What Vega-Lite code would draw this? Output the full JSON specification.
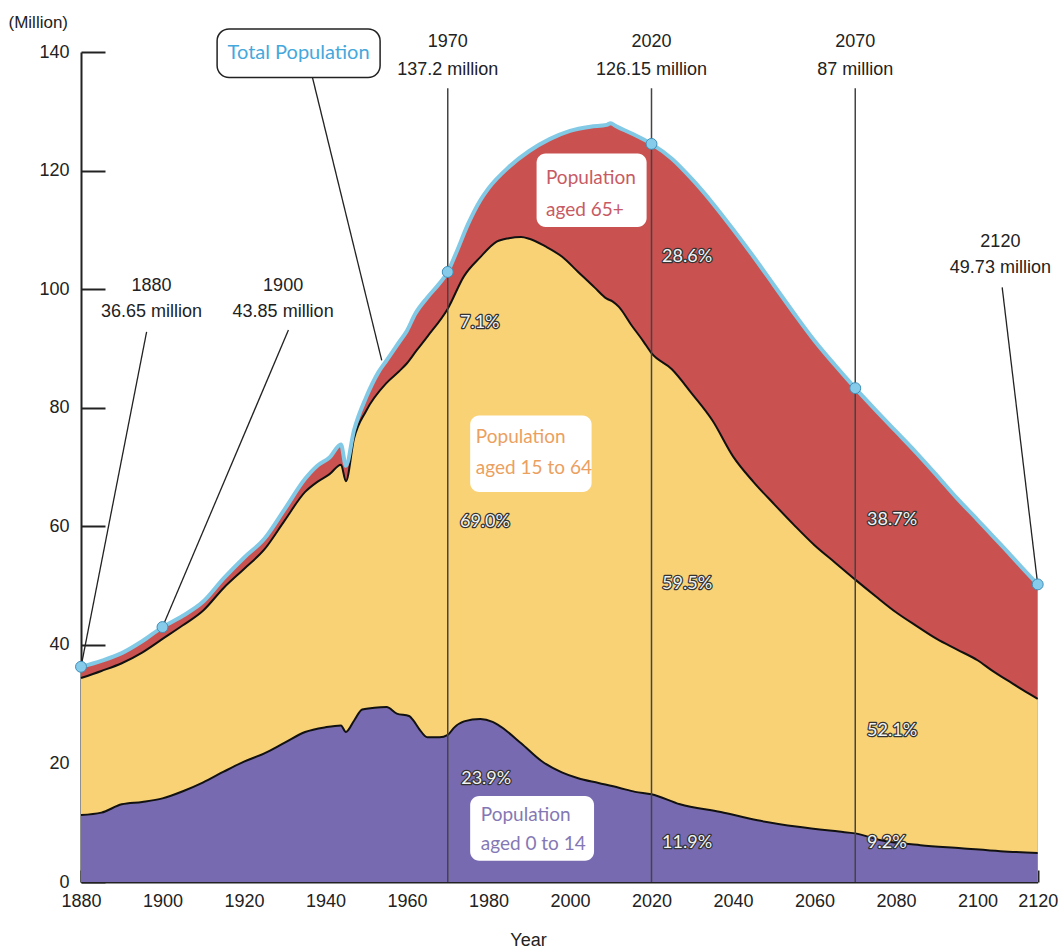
{
  "$schema": "https://vega.github.io/schema/vega-lite/v6.json",
  "width": 957,
  "height": 830,
  "autosize": {"type": "none"},
  "padding": {"left": 81, "top": 52, "right": 21, "bottom": 67},
  "background": "white",
  "config": {"view": {"stroke": null}},
  "datasets": {
    "total": [
      {"year":1880,"value":36.3},{"year":1885,"value":37.3},{"year":1890,"value":38.6},{"year":1895,"value":40.6},{"year":1900,"value":43.0},{"year":1905,"value":44.9},{"year":1910,"value":47.3},{"year":1915,"value":51.2},{"year":1920,"value":54.7},{"year":1925,"value":57.9},{"year":1930,"value":62.9},{"year":1935,"value":68.0},{"year":1938,"value":70.2},{"year":1941,"value":71.6},{"year":1943.8,"value":73.8},{"year":1945,"value":70.2},{"year":1947,"value":76.2},{"year":1950,"value":81.8},{"year":1953,"value":86.0},{"year":1955,"value":88.0},{"year":1958,"value":91.0},{"year":1960,"value":93.0},{"year":1962,"value":95.8},{"year":1965,"value":98.6},{"year":1968,"value":101.0},{"year":1970,"value":102.9},{"year":1972,"value":106.0},{"year":1975,"value":111.0},{"year":1978,"value":115.0},{"year":1980,"value":117.0},{"year":1985,"value":120.6},{"year":1990,"value":123.3},{"year":1995,"value":125.3},{"year":2000,"value":126.7},{"year":2005,"value":127.4},{"year":2009,"value":127.7},{"year":2010,"value":128.0},{"year":2011,"value":127.6},{"year":2015,"value":126.3},{"year":2020,"value":124.5},{"year":2025,"value":122.0},{"year":2030,"value":118.5},{"year":2035,"value":114.5},{"year":2040,"value":110.1},{"year":2045,"value":105.5},{"year":2050,"value":100.7},{"year":2055,"value":95.9},{"year":2060,"value":91.3},{"year":2065,"value":87.2},{"year":2070,"value":83.3},{"year":2075,"value":79.6},{"year":2080,"value":76.0},{"year":2085,"value":72.4},{"year":2090,"value":68.6},{"year":2095,"value":64.7},{"year":2100,"value":61.1},{"year":2105,"value":58.4},{"year":2110,"value":55.7},{"year":2115,"value":52.9},{"year":2120,"value":50.2}
    ],
    "under65": [
      {"year":1880,"value":34.4},{"year":1885,"value":35.6},{"year":1890,"value":36.9},{"year":1895,"value":38.7},{"year":1900,"value":41.0},{"year":1905,"value":43.3},{"year":1910,"value":45.8},{"year":1915,"value":49.6},{"year":1920,"value":52.8},{"year":1925,"value":56.1},{"year":1930,"value":61.0},{"year":1935,"value":65.8},{"year":1938,"value":67.5},{"year":1941,"value":68.8},{"year":1943.8,"value":70.4},{"year":1945,"value":67.6},{"year":1947,"value":74.8},{"year":1950,"value":79.5},{"year":1955,"value":84.2},{"year":1958,"value":86.1},{"year":1960,"value":87.5},{"year":1962.4,"value":89.7},{"year":1965,"value":92.0},{"year":1970,"value":96.7},{"year":1974,"value":102.2},{"year":1978,"value":105.4},{"year":1982,"value":108.0},{"year":1985,"value":108.6},{"year":1988,"value":108.8},{"year":1990,"value":108.5},{"year":1994,"value":107.2},{"year":1998,"value":105.5},{"year":2002,"value":102.9},{"year":2006,"value":100.3},{"year":2009,"value":98.4},{"year":2010.5,"value":97.9},{"year":2012,"value":97.0},{"year":2015,"value":94.0},{"year":2018,"value":91.2},{"year":2020,"value":89.2},{"year":2025,"value":86.5},{"year":2030,"value":82.3},{"year":2035,"value":77.8},{"year":2040,"value":71.8},{"year":2045,"value":67.5},{"year":2050,"value":63.8},{"year":2055,"value":60.2},{"year":2060,"value":56.8},{"year":2065,"value":53.9},{"year":2070,"value":51.0},{"year":2075,"value":48.2},{"year":2080,"value":45.5},{"year":2085,"value":43.2},{"year":2090,"value":41.0},{"year":2095,"value":39.2},{"year":2100,"value":37.4},{"year":2105,"value":35.6},{"year":2110,"value":34.0},{"year":2115,"value":32.4},{"year":2120,"value":30.9}
    ],
    "under15": [
      {"year":1880,"value":11.3},{"year":1885,"value":11.7},{"year":1890,"value":13.1},{"year":1895,"value":13.5},{"year":1900,"value":14.1},{"year":1905,"value":15.3},{"year":1910,"value":16.8},{"year":1915,"value":18.6},{"year":1920,"value":20.3},{"year":1925,"value":21.7},{"year":1930,"value":23.5},{"year":1935,"value":25.3},{"year":1940,"value":26.1},{"year":1943.8,"value":26.4},{"year":1945,"value":25.3},{"year":1947,"value":27.2},{"year":1949,"value":29.1},{"year":1952,"value":29.4},{"year":1955,"value":29.5},{"year":1957.5,"value":28.4},{"year":1960.5,"value":28.0},{"year":1961.5,"value":27.3},{"year":1963,"value":25.8},{"year":1965,"value":24.4},{"year":1968,"value":24.4},{"year":1970,"value":24.8},{"year":1971.5,"value":26.0},{"year":1974,"value":27.1},{"year":1978,"value":27.5},{"year":1981,"value":27.0},{"year":1983,"value":26.2},{"year":1988,"value":23.4},{"year":1993,"value":20.4},{"year":1998,"value":18.5},{"year":2002,"value":17.5},{"year":2007,"value":16.7},{"year":2012,"value":15.9},{"year":2016,"value":15.2},{"year":2020,"value":14.8},{"year":2027,"value":13.1},{"year":2037,"value":11.8},{"year":2046,"value":10.4},{"year":2056,"value":9.3},{"year":2066,"value":8.5},{"year":2070,"value":8.2},{"year":2076,"value":7.1},{"year":2086,"value":6.2},{"year":2096,"value":5.7},{"year":2107.6,"value":5.2},{"year":2120,"value":4.9}
    ],
    "markers": [
      {"year":1880,"value":36.3},{"year":1900,"value":43.0},{"year":1970,"value":102.9},{"year":2020,"value":124.5},{"year":2070,"value":83.3},{"year":2120,"value":50.2}
    ],
    "verticals": [
      {"year":1970,"value":0,"year2":1970,"value2":133.9},
      {"year":2020,"value":0,"year2":2020,"value2":133.9},
      {"year":2070,"value":0,"year2":2070,"value2":133.9}
    ],
    "leaders": [
      {"year":1896.1,"value":92.8,"year2":1880,"value2":36.3},
      {"year":1930.9,"value":93.1,"year2":1900,"value2":43.0},
      {"year":1936.8,"value":135.7,"year2":1953.8,"value2":88.0},
      {"year":2108.2,"value":100.3,"year2":2120,"value2":50.2}
    ],
    "boxes": [
      {"group":"65+","year":1991.8,"year2":2018.8,"value":122.9,"value2":110.5},
      {"group":"15-64","year":1975.5,"year2":2005.3,"value":78.7,"value2":65.8},
      {"group":"0-14","year":1975.5,"year2":2005.9,"value":14.5,"value2":3.6}
    ],
    "totalbox": [
      {"year":1913.4,"year2":1953.4,"value":143.9,"value2":135.7}
    ],
    "annotations": [
      {"text":"1880","year":1897.3,"value":100.6},
      {"text":"36.65 million","year":1897.3,"value":96.2},
      {"text":"1900","year":1929.6,"value":100.6},
      {"text":"43.85 million","year":1929.6,"value":96.2},
      {"text":"1970","year":1970,"value":141.7},
      {"text":"137.2 million","year":1970,"value":136.9},
      {"text":"2020","year":2020,"value":141.7},
      {"text":"126.15 million","year":2020,"value":136.9},
      {"text":"2070","year":2070,"value":141.7},
      {"text":"87 million","year":2070,"value":136.9},
      {"text":"2120","year":2107.6,"value":108.0},
      {"text":"49.73 million","year":2107.6,"value":103.5}
    ],
    "boxtext": [
      {"group":"total","text":"Total Population","year":1933.4,"value":139.8},
      {"group":"65+","text":"Population","year":1994.1,"value":118.7},
      {"group":"65+","text":"aged 65+","year":1994.1,"value":113.3},
      {"group":"15-64","text":"Population","year":1976.9,"value":75.1},
      {"group":"15-64","text":"aged 15 to 64","year":1976.9,"value":69.8},
      {"group":"0-14","text":"Population","year":1978.1,"value":11.3},
      {"group":"0-14","text":"aged 0 to 14","year":1978.1,"value":6.4}
    ],
    "percents": [
      {"text":"7.1%","year":1973.0,"value":94.3},
      {"text":"69.0%","year":1973.0,"value":60.7},
      {"text":"23.9%","year":1973.3,"value":17.4},
      {"text":"28.6%","year":2022.6,"value":105.4},
      {"text":"59.5%","year":2022.6,"value":50.2},
      {"text":"11.9%","year":2022.6,"value":6.6},
      {"text":"38.7%","year":2072.9,"value":61.0},
      {"text":"52.1%","year":2072.9,"value":25.5},
      {"text":"9.2%","year":2072.9,"value":6.6}
    ]
  },
  "encoding": {
    "x": {
      "field": "year",
      "type": "quantitative",
      "scale": {"domain": [1880, 2100, 2120], "range": [0, 896.5, 956.7], "nice": false, "zero": false},
      "axis": {
        "values": [1880,1900,1920,1940,1960,1980,2000,2020,2040,2060,2080,2100,2120],
        "format": "d",
        "grid": false,
        "tickSize": -12,
        "tickWidth": 2,
        "tickColor": "#222",
        "domainColor": "#222",
        "domainWidth": 2,
        "labelFont": "Liberation Sans, Arial, sans-serif",
        "labelFontSize": 18,
        "labelColor": "#222",
        "labelPadding": 22,
        "labelFlush": false,
        "labelOverlap": false,
        "title": "Year",
        "titleFont": "Liberation Sans, Arial, sans-serif",
        "titleFontSize": 18,
        "titleFontWeight": "normal",
        "titleColor": "#222",
        "titleAlign": "center",
        "titleBaseline": "middle",
        "titleX": 447,
        "titleY": 58
      }
    },
    "y": {
      "field": "value",
      "type": "quantitative",
      "scale": {"domain": [0, 140], "nice": false, "zero": true},
      "axis": {
        "values": [0,20,40,60,80,100,120,140],
        "grid": false,
        "tickSize": -24,
        "tickWidth": 2,
        "tickColor": "#222",
        "domainColor": "#222",
        "domainWidth": 2,
        "labelFont": "Liberation Sans, Arial, sans-serif",
        "labelFontSize": 18,
        "labelColor": "#222",
        "labelPadding": 36,
        "title": "(Million)",
        "titleFont": "Liberation Sans, Arial, sans-serif",
        "titleFontSize": 17,
        "titleFontWeight": "normal",
        "titleColor": "#222",
        "titleAngle": 0,
        "titleAlign": "left",
        "titleBaseline": "middle",
        "titleX": -73,
        "titleY": -30
      }
    }
  },
  "layer": [
    {"data": {"name": "total"}, "mark": {"type": "area", "color": "#c95150", "interpolate": "monotone"}, "encoding": {"y2": {"datum": 0}}},
    {"data": {"name": "under65"}, "mark": {"type": "area", "color": "#f9d276", "interpolate": "monotone"}, "encoding": {"y2": {"datum": 0}}},
    {"data": {"name": "under15"}, "mark": {"type": "area", "color": "#786ab0", "interpolate": "monotone"}, "encoding": {"y2": {"datum": 0}}},
    {"data": {"name": "under65"}, "mark": {"type": "line", "color": "#111", "strokeWidth": 2, "interpolate": "monotone"}, "encoding": {}},
    {"data": {"name": "under15"}, "mark": {"type": "line", "color": "#111", "strokeWidth": 2, "interpolate": "monotone"}, "encoding": {}},
    {"data": {"name": "total"}, "mark": {"type": "line", "color": "#82c9e6", "strokeWidth": 4, "interpolate": "monotone"}, "encoding": {}},
    {"data": {"name": "verticals"}, "mark": {"type": "rule", "color": "#444", "strokeWidth": 1.5}, "encoding": {"x2": {"field": "year2"}, "y2": {"field": "value2"}}},
    {"data": {"name": "leaders"}, "mark": {"type": "rule", "color": "#222", "strokeWidth": 1.3}, "encoding": {"x2": {"field": "year2"}, "y2": {"field": "value2"}}},
    {"data": {"name": "markers"}, "mark": {"type": "point", "filled": true, "size": 120, "fill": "#86cbea", "stroke": "#3f8fb8", "strokeWidth": 1, "opacity": 1}, "encoding": {}},
    {"data": {"name": "boxes"}, "mark": {"type": "rect", "fill": "white", "cornerRadius": 9}, "encoding": {"x2": {"field": "year2"}, "y2": {"field": "value2"}}},
    {"data": {"name": "totalbox"}, "mark": {"type": "rect", "fill": "white", "stroke": "#222", "strokeWidth": 1.5, "cornerRadius": 12}, "encoding": {"x2": {"field": "year2"}, "y2": {"field": "value2"}}},
    {"data": {"name": "annotations"}, "mark": {"type": "text", "font": "Liberation Sans, Arial, sans-serif", "fontSize": 18, "color": "#222", "align": "center", "baseline": "middle"}, "encoding": {"text": {"field": "text"}}},
    {"data": {"name": "boxtext"}, "transform": [{"filter": "datum.group === 'total'"}], "mark": {"type": "text", "font": "Lato", "fontSize": 20, "align": "center", "baseline": "middle"}, "encoding": {"text": {"field": "text"}, "color": {"field": "group", "type": "nominal", "scale": {"domain": ["total", "65+", "15-64", "0-14"], "range": ["#45a8dc", "#c85a64", "#eba060", "#8478b4"]}, "legend": null}}},
    {"data": {"name": "boxtext"}, "transform": [{"filter": "datum.group !== 'total'"}], "mark": {"type": "text", "font": "Lato", "fontSize": 19, "align": "left", "baseline": "middle"}, "encoding": {"text": {"field": "text"}, "color": {"field": "group", "type": "nominal", "legend": null}}},
    {"data": {"name": "percents"}, "mark": {"type": "text", "font": "Lato", "fontSize": 18, "align": "left", "baseline": "middle", "fill": "#333", "stroke": "#333", "strokeWidth": 2.5, "strokeJoin": "round"}, "encoding": {"text": {"field": "text"}}},
    {"data": {"name": "percents"}, "mark": {"type": "text", "font": "Lato", "fontSize": 18, "align": "left", "baseline": "middle", "fill": "#f2f2f2"}, "encoding": {"text": {"field": "text"}}}
  ]
}
